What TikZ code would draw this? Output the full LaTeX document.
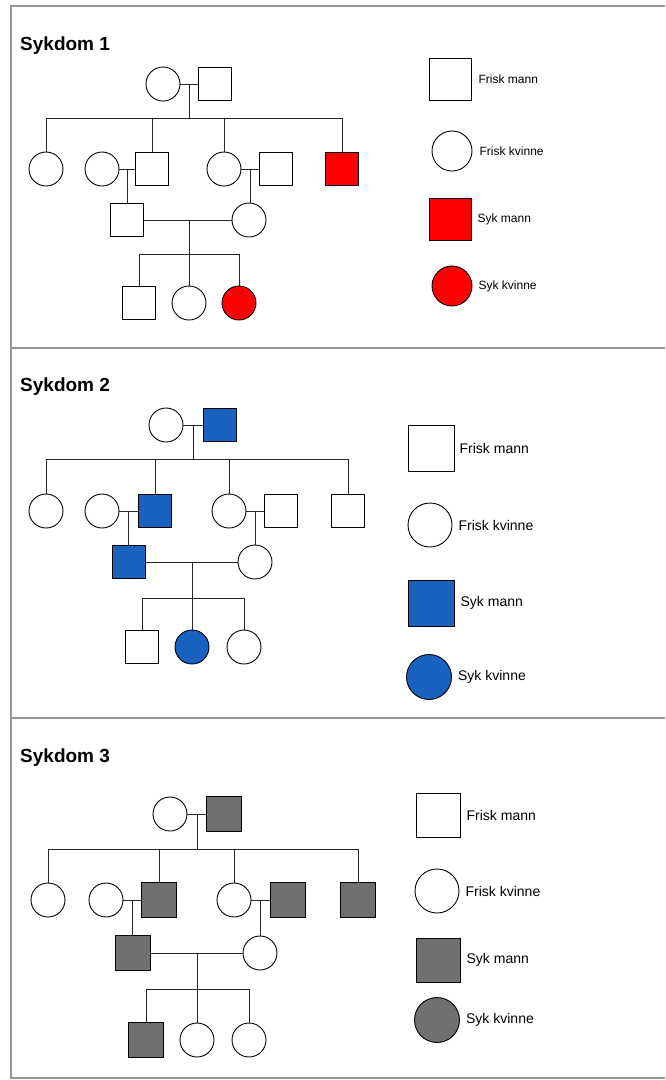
\documentclass[tikz,border=0pt]{standalone}
\usepackage{fontspec}
\setmainfont{Liberation Sans}
\usetikzlibrary{positioning,calc}
\definecolor{syk1}{RGB}{255,0,0}
\definecolor{syk2}{RGB}{26,98,192}
\definecolor{syk3}{RGB}{112,112,112}
\definecolor{ramme}{RGB}{150,150,150}

\begin{document}
\begin{tikzpicture}[
  x=1pt, y=-1pt,
  mann/.style={draw, fill=white, minimum size=33pt, inner sep=0pt, line width=0.9pt},
  kvinne/.style={draw, fill=white, circle, minimum size=34pt, inner sep=0pt, line width=0.9pt},
  tittel/.style={anchor=west, font=\fontsize{19}{21}\selectfont\bfseries, inner sep=0pt},
  tekst/.style={inner sep=1pt, font=\fontsize{12}{14}\selectfont},
  linje/.style={line width=1pt, draw=black!85},
  ramme/.style={line width=1.8pt, draw=ramme}
]
\useasboundingbox (0,0) rectangle (665,1080);
\fill[white] (0,0) rectangle (665,1080);

% Rammer
\draw[ramme] (665,6) -- (11,6) -- (11,348) -- (665,348);
\draw[ramme] (11,348) -- (11,718) -- (665,718);
\draw[ramme] (11,718) -- (11,1078) -- (665,1078);

% ---------------- Sykdom 1 ----------------
\node[tittel] (t1) at (20,46) {Sykdom 1};
\node[kvinne] (mor1) at (163,84) {};
\node[mann] (far1) at (215,84) {};
\node[kvinne] (a1) at (46,169) {};
\node[kvinne] (b1) at (102,169) {};
\node[mann] (c1) at (152,169) {};
\node[kvinne] (d1) at (224,169) {};
\node[mann] (e1) at (276,169) {};
\node[mann, fill=syk1] (f1) at (342,169) {};
\node[mann] (g1) at (127,220) {};
\node[kvinne] (h1) at (249,220) {};
\node[mann] (i1) at (139,303) {};
\node[kvinne] (j1) at (189,303) {};
\node[kvinne, fill=syk1] (k1) at (239,303) {};

\coordinate (u1) at (189,84);
\coordinate (v1) at (189,118);
\coordinate (w1) at (189,220);
\coordinate (x1) at (189,254);
\coordinate (bc1) at ($(b1.east)!.5!(c1.west)$);
\coordinate (de1) at ($(d1.east)!.5!(e1.west)$);

\draw[linje] (mor1) -- (far1);
\draw[linje] (u1) -- (v1);
\draw[linje] (a1) -- (a1 |- v1) -- (f1 |- v1) -- (f1);
\draw[linje] (c1 |- v1) -- (c1);
\draw[linje] (d1 |- v1) -- (d1);
\draw[linje] (b1) -- (c1);
\draw[linje] (d1) -- (e1);
\draw[linje] (bc1) -- (bc1 |- g1.north);
\draw[linje] (de1) -- (de1 |- h1.north);
\draw[linje] (g1) -- (h1);
\draw[linje] (w1) -- (x1);
\draw[linje] (i1) -- (i1 |- x1) -- (k1 |- x1) -- (k1);
\draw[linje] (j1 |- x1) -- (j1);

% Forklaring 1
\node[mann, minimum size=42pt] (lm1) at (450,79) {};
\node[kvinne, minimum size=40pt] (lk1) at (452,151) {};
\node[mann, minimum size=42pt, fill=syk1] (ls1) at (450,219) {};
\node[kvinne, minimum size=40pt, fill=syk1] (lsk1) at (452,286) {};
\node[tekst, right=6pt of lm1] (tm1) {Frisk mann};
\node[tekst, right=6pt of lk1] (tk1) {Frisk kvinne};
\node[tekst, right=5pt of ls1] (ts1) {Syk mann};
\node[tekst, right=5pt of lsk1] (tsk1) {Syk kvinne};

% ---------------- Sykdom 2 ----------------
\node[tittel] (t2) at (20,387) {Sykdom 2};
\node[kvinne] (mor2) at (166,425) {};
\node[mann, fill=syk2] (far2) at (220,425) {};
\node[kvinne] (a2) at (46,511) {};
\node[kvinne] (b2) at (102,511) {};
\node[mann, fill=syk2] (c2) at (155,511) {};
\node[kvinne] (d2) at (229,511) {};
\node[mann] (e2) at (281,511) {};
\node[mann] (f2) at (348,511) {};
\node[mann, fill=syk2] (g2) at (129,562) {};
\node[kvinne] (h2) at (255,562) {};
\node[mann] (i2) at (142,647) {};
\node[kvinne, fill=syk2] (j2) at (192,647) {};
\node[kvinne] (k2) at (244,647) {};

\coordinate (u2) at (193,425);
\coordinate (v2) at (193,459);
\coordinate (w2) at (192,562);
\coordinate (x2) at (192,598);
\coordinate (bc2) at ($(b2.east)!.5!(c2.west)$);
\coordinate (de2) at ($(d2.east)!.5!(e2.west)$);

\draw[linje] (mor2) -- (far2);
\draw[linje] (u2) -- (v2);
\draw[linje] (a2) -- (a2 |- v2) -- (f2 |- v2) -- (f2);
\draw[linje] (c2 |- v2) -- (c2);
\draw[linje] (d2 |- v2) -- (d2);
\draw[linje] (b2) -- (c2);
\draw[linje] (d2) -- (e2);
\draw[linje] (bc2) -- (bc2 |- g2.north);
\draw[linje] (de2) -- (de2 |- h2.north);
\draw[linje] (g2) -- (h2);
\draw[linje] (w2) -- (x2);
\draw[linje] (i2) -- (i2 |- x2) -- (k2 |- x2) -- (k2);
\draw[linje] (j2 |- x2) -- (j2);

% Forklaring 2
\node[mann, minimum size=46pt] (lm2) at (431,448) {};
\node[kvinne, minimum size=44pt] (lk2) at (430,525) {};
\node[mann, minimum size=46pt, fill=syk2] (ls2) at (431,603) {};
\node[kvinne, minimum size=45pt, fill=syk2] (lsk2) at (429,677) {};
\node[tekst, font=\fontsize{14}{16}\selectfont, right=4pt of lm2] (tm2) {Frisk mann};
\node[tekst, font=\fontsize{14}{16}\selectfont, right=5pt of lk2] (tk2) {Frisk kvinne};
\node[tekst, font=\fontsize{14}{16}\selectfont, right=5pt of ls2] (ts2) {Syk mann};
\node[tekst, font=\fontsize{14}{16}\selectfont, right=5pt of lsk2] (tsk2) {Syk kvinne};

% ---------------- Sykdom 3 ----------------
\node[tittel] (t3) at (20,758) {Sykdom 3};
\node[kvinne] (mor3) at (170,814) {};
\node[mann, fill=syk3, minimum size=35pt] (far3) at (224,814) {};
\node[kvinne] (a3) at (48,900) {};
\node[kvinne] (b3) at (106,900) {};
\node[mann, fill=syk3, minimum size=35pt] (c3) at (159,900) {};
\node[kvinne] (d3) at (234,900) {};
\node[mann, fill=syk3, minimum size=35pt] (e3) at (288,900) {};
\node[mann, fill=syk3, minimum size=35pt] (f3) at (358,900) {};
\node[mann, fill=syk3, minimum size=35pt] (g3) at (133,953) {};
\node[kvinne] (h3) at (260,953) {};
\node[mann, fill=syk3, minimum size=35pt] (i3) at (146,1040) {};
\node[kvinne] (j3) at (197,1040) {};
\node[kvinne] (k3) at (249,1040) {};

\coordinate (u3) at (197,814);
\coordinate (v3) at (197,849);
\coordinate (w3) at (197,953);
\coordinate (x3) at (197,989);
\coordinate (bc3) at ($(b3.east)!.5!(c3.west)$);
\coordinate (de3) at ($(d3.east)!.5!(e3.west)$);

\draw[linje] (mor3) -- (far3);
\draw[linje] (u3) -- (v3);
\draw[linje] (a3) -- (a3 |- v3) -- (f3 |- v3) -- (f3);
\draw[linje] (c3 |- v3) -- (c3);
\draw[linje] (d3 |- v3) -- (d3);
\draw[linje] (b3) -- (c3);
\draw[linje] (d3) -- (e3);
\draw[linje] (bc3) -- (bc3 |- g3.north);
\draw[linje] (de3) -- (de3 |- h3.north);
\draw[linje] (g3) -- (h3);
\draw[linje] (w3) -- (x3);
\draw[linje] (i3) -- (i3 |- x3) -- (k3 |- x3) -- (k3);
\draw[linje] (j3 |- x3) -- (j3);

% Forklaring 3
\node[mann, minimum size=44pt] (lm3) at (438,815) {};
\node[kvinne, minimum size=44pt] (lk3) at (437,891) {};
\node[mann, minimum size=44pt, fill=syk3] (ls3) at (438,960) {};
\node[kvinne, minimum size=45pt, fill=syk3] (lsk3) at (437,1020) {};
\node[tekst, font=\fontsize{14}{16}\selectfont, right=5pt of lm3] (tm3) {Frisk mann};
\node[tekst, font=\fontsize{14}{16}\selectfont, right=5pt of lk3] (tk3) {Frisk kvinne};
\node[tekst, font=\fontsize{14}{16}\selectfont, right=5pt of ls3] (ts3) {Syk mann};
\node[tekst, font=\fontsize{14}{16}\selectfont, right=5pt of lsk3] (tsk3) {Syk kvinne};
\end{tikzpicture}
\end{document}
